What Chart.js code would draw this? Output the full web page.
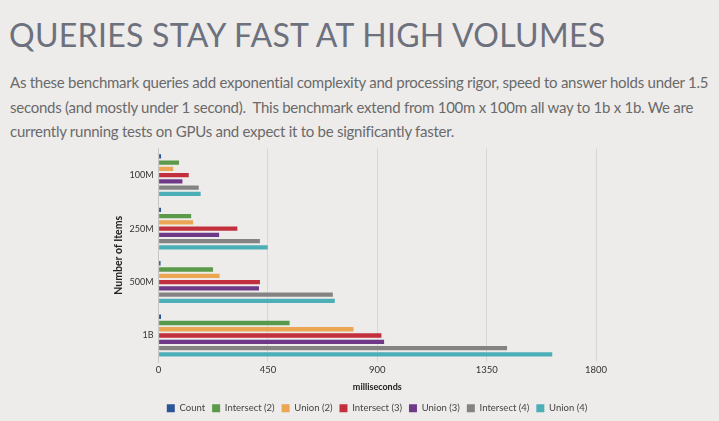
<!DOCTYPE html>
<html>
<head>
<meta charset="utf-8">
<script src="https://cdn.jsdelivr.net/npm/chart.js@4/dist/chart.umd.min.js"></script>
<style>
    html, body {
        margin: 0;
        padding: 0;
        width: 719px;
        height: 421px;
        overflow: hidden;
        background: #eeecea;
    }
    h1 {
        position: absolute;
        left: 9px;
        top: 15px;
        margin: 0;
        font-family: Lato, "Open Sans", sans-serif;
        font-weight: 400;
        font-size: 32px;
        color: #6d717e;
        white-space: nowrap;
        letter-spacing: 0.3px;
    }
    .intro {
        position: absolute;
        left: 10px;
        top: 70px;
        margin: 0;
        font-family: Lato, "Open Sans", sans-serif;
        font-size: 15px;
        letter-spacing: -0.26px;
        line-height: 24.5px;
        color: #6a6a6a;
        white-space: nowrap;
    }
    #chart-box {
        position: absolute;
        left: 100px;
        top: 138px;
        width: 552px;
        height: 285px;
    }
</style>
</head>
<body>
<h1>QUERIES STAY FAST AT HIGH VOLUMES</h1>
<p class="intro">As these benchmark queries add exponential complexity and processing rigor, speed to answer holds under 1.5<br>seconds (and mostly under 1 second).&nbsp; This benchmark extend from 100m x 100m all way to 1b x 1b. We are<br>currently running tests on GPUs and expect it to be significantly faster.</p>
<div id="chart-box"><canvas id="query-chart"></canvas></div>
<script>
const itemCounts = ['100M', '250M', '500M', '1B'];
const seriesNames = ['Count', 'Intersect (2)', 'Union (2)', 'Intersect (3)', 'Union (3)', 'Intersect (4)', 'Union (4)'];
const seriesColors = ['#2d5596', '#5b9a4b', '#eca552', '#c3303d', '#6e3a87', '#838383', '#4caeb7'];

// milliseconds, one array per query type, in itemCounts order
const countMs = [10, 10, 8, 10];
const intersect2Ms = [84, 134, 224, 539];
const union2Ms = [60, 142, 251, 802];
const intersect3Ms = [124, 324, 417, 917];
const union3Ms = [98, 249, 413, 928];
const intersect4Ms = [165, 417, 717, 1434];
const union4Ms = [173, 449, 725, 1620];

const xTicks = [0, 450, 900, 1350, 1800];

const allSeries = [countMs, intersect2Ms, union2Ms, intersect3Ms, union3Ms, intersect4Ms, union4Ms];

const ctx = document.getElementById('query-chart').getContext('2d');
new Chart(ctx, {
    type: 'bar',
    data: {
        labels: itemCounts,
        datasets: allSeries.map(function(values, i) {
            return {
                label: seriesNames[i],
                data: values,
                backgroundColor: seriesColors[i],
                borderWidth: 0,
                categoryPercentage: 0.82,
                barPercentage: 0.7
            };
        })
    },
    options: {
        indexAxis: 'y',
        responsive: true,
        maintainAspectRatio: false,
        animation: false,
        layout: {
            padding: { left: 12, right: 10, top: 2, bottom: 0 }
        },
        scales: {
            x: {
                min: 0,
                max: 1800,
                afterBuildTicks: function(axis) {
                    axis.ticks = xTicks.map(function(v) { return { value: v }; });
                },
                grid: {
                    color: '#d9d7d5',
                    drawTicks: false
                },
                border: { display: false },
                ticks: {
                    color: '#333',
                    padding: 2,
                    font: { family: 'Lato', size: 9.5 },
                    callback: function(value) { return String(value); }
                },
                title: {
                    display: true,
                    text: 'milliseconds',
                    color: '#222',
                    padding: { top: 4, bottom: 4 },
                    font: { family: 'Lato', size: 9, weight: 'bold' }
                }
            },
            y: {
                grid: { display: false, drawTicks: false },
                border: { display: true, color: '#c8c6c4' },
                ticks: {
                    color: '#333',
                    padding: 5,
                    font: { family: 'Lato', size: 9 }
                },
                title: {
                    display: true,
                    text: 'Number of Items',
                    color: '#222',
                    padding: { top: 0, bottom: 0 },
                    font: { family: 'Lato', size: 10.5, weight: 'bold' }
                }
            },
            // empty right-hand spacer so the legend centres under the plot like the original
            spacer: {
                type: 'linear',
                position: 'right',
                display: true,
                grid: { display: false },
                border: { display: false },
                ticks: { display: false },
                afterFit: function(scale) { scale.width = 46; }
            }
        },
        plugins: {
            legend: {
                position: 'bottom',
                labels: {
                    color: '#444',
                    boxWidth: 8,
                    boxHeight: 8,
                    padding: 7,
                    font: { family: 'Lato', size: 9.5 }
                }
            },
            tooltip: { enabled: false }
        }
    }
});
</script>
</body>
</html>
